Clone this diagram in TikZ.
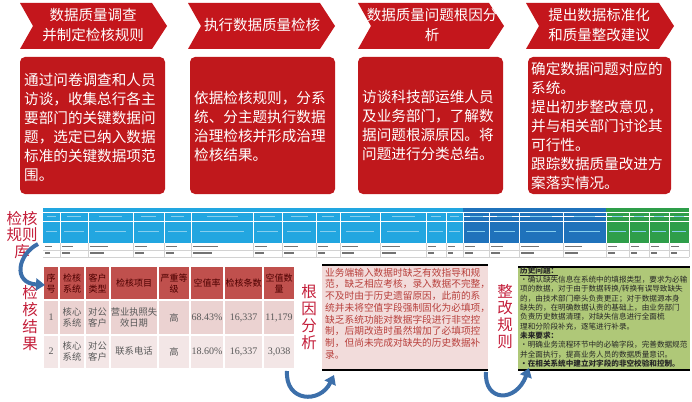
\documentclass[tikz,border=0pt]{standalone}
\usepackage{fontspec}
\setmainfont{Noto Sans CJK SC}
\newfontfamily\numfont{Liberation Serif}
\usetikzlibrary{arrows.meta}
\definecolor{chev}{HTML}{C4161C}
\definecolor{boxred}{HTML}{C0181C}
\definecolor{lab}{HTML}{C41E3A}
\definecolor{cyanh}{HTML}{22A6E0}
\definecolor{blueh}{HTML}{1F72BB}
\definecolor{greenh}{HTML}{2E9E4A}
\definecolor{thead}{HTML}{C0504D}
\definecolor{trowa}{HTML}{EBD2D1}
\definecolor{trowb}{HTML}{F3E6E6}
\definecolor{pinkbox}{HTML}{F2DCDB}
\definecolor{pinktext}{HTML}{B8403C}
\definecolor{greenbox}{HTML}{AFC878}
\definecolor{arrowblue}{HTML}{3C6FAA}
\definecolor{celltext}{HTML}{595959}
\begin{document}
\begin{tikzpicture}[x=1pt,y=-1pt,
  hdr/.style={text=white,font=\fontsize{14.5}{20}\selectfont,align=center,inner sep=0pt},
  boxtxt/.style={text=white,font=\fontsize{14.6}{19}\selectfont,align=left,inner sep=0pt,anchor=west},
  vlab/.style={text=lab,font=\fontsize{15.5}{16.8}\selectfont,align=center,inner sep=0pt},
  thd/.style={text=black!70!red,font=\fontsize{9}{11}\selectfont,align=center,inner sep=0pt},
  tcell/.style={text=celltext,font=\fontsize{9.3}{11.5}\selectfont,align=center,inner sep=0pt},
  tnum/.style={text=celltext,font=\numfont\fontsize{10}{12}\selectfont,inner sep=0pt},
  barrow/.style={draw=arrowblue,line width=4pt,-{Triangle[width=12pt,length=9pt]}}
]
\useasboundingbox (0,0) rectangle (692,401);
\fill[white] (0,0) rectangle (692,401);

% ---- chevrons
\foreach \a/\b in {20/167,188/335,358/504,526/674}{
  \fill[chev] (\a,3) -- ({\b-15},3) -- (\b,26) -- ({\b-15},49) -- (\a,49) -- ({\a+13},26) -- cycle;
}
\node[hdr] (h1) at (93,25) {数据质量调查\\并制定检核规则};
\node[hdr] (h2) at (262,25) {执行数据质量检核};
\node[hdr] (h3) at (432,25) {数据质量问题根因分\\析};
\node[hdr] (h4) at (599,25) {提出数据标准化\\和质量整改建议};

% ---- red description boxes
\foreach \a/\b in {20/165,190/335,358/503,528/671}{
  \fill[boxred,rounded corners=5pt] (\a,57) rectangle (\b,194);
}
\node[boxtxt] (t1) at (24,127.5) {通过问卷调查和人员\\访谈，收集总行各主\\要部门的关键数据问\\题，选定已纳入数据\\标准的关键数据项范\\围。};
\node[boxtxt] (t2) at (194,126.5) {依据检核规则，分系\\统、分主题执行数据\\治理检核并形成治理\\检核结果。};
\node[boxtxt] (t3) at (362,125.5) {访谈科技部运维人员\\及业务部门，了解数\\据问题根源原因。将\\问题进行分类总结。};
\node[boxtxt] (t4) at (531,125.5) {确定数据问题对应的\\系统。\\提出初步整改意见，\\并与相关部门讨论其\\可行性。\\跟踪数据质量改进方\\案落实情况。};

% ---- rule library spreadsheet (illegible screenshot)
\fill[cyanh] (43,208) rectangle (463,243);
\fill[blueh] (463,208) rectangle (606,243);
\fill[greenh] (606,208) rectangle (689,243);
\fill[white] (43,243) rectangle (689,257);
\draw[white,line width=0.6pt] (43,212) -- (689,212);
\draw[white,line width=0.6pt] (43,221) -- (689,221);
\draw[white,line width=0.5pt] (463,216) -- (689,216);
\draw[gray!35,line width=0.4pt] (43,250) -- (689,250);
\draw[gray!35,line width=0.4pt] (43,257) -- (689,257);
\foreach \l/\r [count=\i] in {43/60,60/88,88/133,133/164,164/191,191/253,253/282,282/316,316/340,340/380,380/426,426/446,446/463,463/489,489/519,519/563,563/606,606/629,629/649,649/669,669/689}{
  \draw[white,line width=0.6pt] (\r,212) -- (\r,243);
  \draw[gray!35,line width=0.4pt] (\r,243) -- (\r,257);
  \fill[white!45!cyanh] ({\l+(\r-\l)*0.25},216) rectangle ({\r-(\r-\l)*0.25},217.3);
  \fill[white!45!cyanh] ({\l+(\r-\l)*0.15},231) rectangle ({\r-(\r-\l)*0.15},232.3);
  \fill[black!55] ({\l+2},245.8) rectangle ({\l+2+(\r-\l)*0.4},247.2);
  \fill[black!55] ({\l+2},252.4) rectangle ({\l+2+(\r-\l)*0.3},253.8);
}

% ---- side labels
\node[vlab] (lku) at (22,235) {检核\\规则\\库};
\node[vlab] (ljg) at (30,318) {检\\核\\结\\果};
\node[vlab] (lgy) at (309,317) {根\\因\\分\\析};
\node[vlab] (lzg) at (505,316.5) {整\\改\\规\\则};

% ---- result table
\foreach \l/\r in {43/59,59/85,85/110,110/158,158/190,190/224,224/263,263/295}{
  \fill[thead] ({\l+0.6},267) rectangle ({\r-0.6},299.4);
  \fill[trowa] ({\l+0.6},300.6) rectangle ({\r-0.6},334.4);
  \fill[trowb] ({\l+0.6},335.6) rectangle ({\r-0.6},368);
}
\node[thd] (c11) at (51,283.5) {序\\号};
\node[thd] (c12) at (72,283.5) {检核\\系统};
\node[thd] (c13) at (97.5,283.5) {客户\\类型};
\node[thd] (c14) at (134,283.5) {检核项目};
\node[thd] (c15) at (174,283.5) {严重等\\级};
\node[thd] (c16) at (207,283.5) {空值率};
\node[thd] (c17) at (243.5,283.5) {检核条数};
\node[thd] (c18) at (279,283.5) {空值数\\量};
\node[tnum] (c21) at (51,317.5) {1};
\node[tcell] (c22) at (72,317.5) {核心\\系统};
\node[tcell] (c23) at (97.5,317.5) {对公\\客户};
\node[tcell] (c24) at (134,317.5) {营业执照失\\效日期};
\node[tcell] (c25) at (174,317.5) {高};
\node[tnum] (c26) at (207,317.5) {68.43\%};
\node[tnum] (c27) at (243.5,317.5) {16,337};
\node[tnum] (c28) at (279,317.5) {11,179};
\node[tnum] (c31) at (51,351.5) {2};
\node[tcell] (c32) at (72,351.5) {核心\\系统};
\node[tcell] (c33) at (97.5,351.5) {对公\\客户};
\node[tcell] (c34) at (134,351.5) {联系电话};
\node[tcell] (c35) at (174,351.5) {高};
\node[tnum] (c36) at (207,351.5) {18.60\%};
\node[tnum] (c37) at (243.5,351.5) {16,337};
\node[tnum] (c38) at (279,351.5) {3,038};

% ---- root cause box
\fill[pinkbox] (322,265) rectangle (488,370);
\draw[black,line width=1.6pt] (322,265) -- (488,265);
\draw[black,line width=1.2pt] (322,370) -- (488,370);
\node[text=pinktext,font=\fontsize{9.7}{11.7}\selectfont,align=left,inner sep=0pt,anchor=west] (root) at (325,313.5)
 {业务端输入数据时缺乏有效指导和规\\范，缺乏相应考核，录入数据不完整，\\不及时由于历史遗留原因，此前的系\\统并未将空值字段强制固化为必填项，\\缺乏系统功能对数据字段进行非空控\\制，后期改造时虽然增加了必填项控\\制，但尚未完成对缺失的历史数据补\\录。};

% ---- rectification box
\fill[greenbox] (518,267) rectangle (690,370);
\draw[black,line width=1.8pt] (518,267) -- (690,267);
\draw[black,line width=1.2pt] (518,370) -- (690,370);
\node[text=black!85,font=\fontsize{7.6}{9.3}\selectfont,align=left,inner sep=0pt,anchor=west] (rule) at (520,317)
 {\textbf{\underline{历史问题：}}\\·确认缺失信息在系统中的填报类型，要求为必输\\项的数据，对于由于数据转换/转换有误导致缺失\\的，由技术部门牵头负责更正；对于数据源本身\\缺失的，在明确数据认责的基础上，由业务部门\\负责历史数据清理，对缺失信息进行全面梳\\理和分阶段补充，逐笔进行补录。\\\textbf{未来要求：}\\·明确业务流程环节中的必输字段，完善数据规范\\并全面执行，提高业务人员的数据质量意识。\\\textbf{·在相关系统中建立对字段的非空校验和控制。}};

% ---- curved arrows
\coordinate (a1s) at (38,244);
\coordinate (a1e) at (45,285);
\draw[barrow] (a1s) .. controls (18,254) and (12,283) .. (a1e);
\coordinate (a2s) at (287,371);
\coordinate (a2e) at (334,375);
\draw[barrow] (a2s) .. controls (285,402) and (320,404) .. (a2e);
\coordinate (a3s) at (486,372);
\coordinate (a3e) at (529,368);
\draw[barrow] (a3s) .. controls (484,402) and (516,403) .. (a3e);
\end{tikzpicture}
\end{document}
